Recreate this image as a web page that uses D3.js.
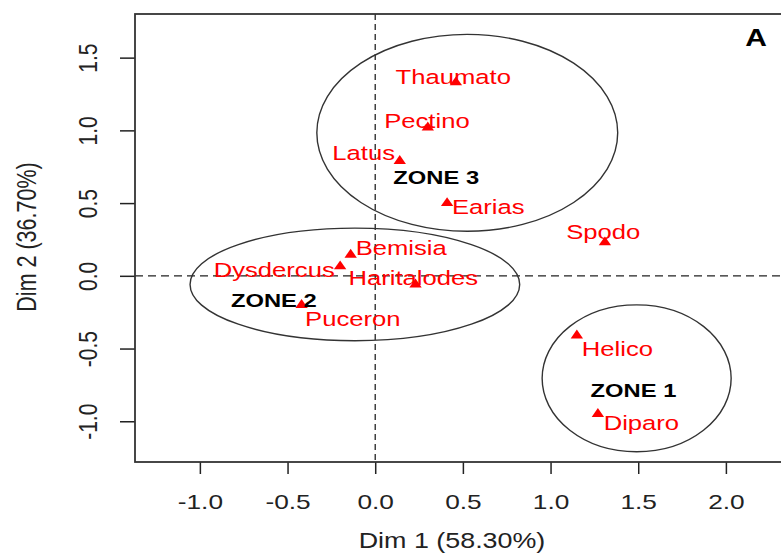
<!DOCTYPE html>
<html>
<head>
<meta charset="utf-8">
<script src="https://cdn.jsdelivr.net/npm/d3@7"></script>
<style>
  body { margin: 0; background: #fff; }
  svg { display: block; }
  text { font-family: "Liberation Sans", Arial, sans-serif; }
</style>
</head>
<body>
<div id="chart"></div>
<script>
// insect species (points)
var species = ["Thaumato", "Pectino", "Latus", "Earias", "Spodo", "Bemisia",
               "Dysdercus", "Haritalodes", "Puceron", "Helico", "Diparo"];
var dim1 = [0.46, 0.30, 0.14, 0.41, 1.31, -0.14, -0.20, 0.23, -0.42, 1.15, 1.27];
var dim2 = [1.33, 1.02, 0.79, 0.50, 0.23, 0.145, 0.065, -0.06, -0.20, -0.41, -0.95];
// where the labels were placed (data units)
var labelDim1 = [0.445, 0.295, -0.066, 0.645, 1.30, 0.148, -0.576, 0.217, -0.128, 1.381, 1.518];
var labelDim2 = [1.37, 1.07, 0.847, 0.475, 0.303, 0.197, 0.045, -0.012, -0.292, -0.502, -1.009];

// zones
var zones = ["ZONE 1", "ZONE 2", "ZONE 3"];
var zoneLabelDim1 = [1.473, -0.578, 0.348];
var zoneLabelDim2 = [-0.787, -0.170, 0.675];
var ellCx = [1.491, -0.116, 0.525];
var ellCy = [-0.705, -0.059, 0.983];
var ellRx = [0.539, 0.94, 0.858];
var ellRy = [0.505, 0.387, 0.677];

var xTicks = [-1.0, -0.5, 0.0, 0.5, 1.0, 1.5, 2.0];
var xTickLabels = ["-1.0", "-0.5", "0.0", "0.5", "1.0", "1.5", "2.0"];
var yTicks = [-1.0, -0.5, 0.0, 0.5, 1.0, 1.5];
var yTickLabels = ["-1.0", "-0.5", "0.0", "0.5", "1.0", "1.5"];

var W = 781, H = 553;
var margin = {top: 14, right: -1, bottom: 91, left: 135};
var SX = 1.25;   // the picture is wider than tall, text gets stretched too

var svg = d3.select("#chart").append("svg")
    .attr("width", W)
    .attr("height", H);

var x = d3.scaleLinear()
    .domain([-1.37, 2.32])
    .range([margin.left, W - margin.right]);
var y = d3.scaleLinear()
    .domain([-1.28, 1.80])
    .range([H - margin.bottom, margin.top]);

function stretched(sel, px, py, rot) {
    sel.attr("transform", "translate(" + px + "," + py + ") scale(" + SX + ",1)" +
        (rot ? " rotate(" + rot + ")" : ""));
    return sel;
}

// dashed zero lines
svg.append("line")
    .attr("x1", x(0)).attr("x2", x(0))
    .attr("y1", y.range()[1]).attr("y2", y.range()[0])
    .attr("stroke", "#222").attr("stroke-width", 1.3)
    .attr("stroke-dasharray", "6,4");
svg.append("line")
    .attr("x1", x.range()[0]).attr("x2", x.range()[1])
    .attr("y1", y(0)).attr("y2", y(0))
    .attr("stroke", "#222").attr("stroke-width", 1.3)
    .attr("stroke-dasharray", "8,5");

// ellipses
svg.selectAll(".zone-ell")
    .data(zones)
    .enter().append("ellipse")
    .attr("class", "zone-ell")
    .attr("cx", function(d, i) { return x(ellCx[i]); })
    .attr("cy", function(d, i) { return y(ellCy[i]); })
    .attr("rx", function(d, i) { return x(ellCx[i] + ellRx[i]) - x(ellCx[i]); })
    .attr("ry", function(d, i) { return y(ellCy[i]) - y(ellCy[i] + ellRy[i]); })
    .attr("fill", "none")
    .attr("stroke", "#333")
    .attr("stroke-width", 1.4);

// points
svg.selectAll(".pt")
    .data(species)
    .enter().append("path")
    .attr("class", "pt")
    .attr("d", d3.symbol().type(d3.symbolTriangle).size(46))
    .attr("transform", function(d, i) {
        return "translate(" + x(dim1[i]) + "," + y(dim2[i]) + ") scale(1.2,1)";
    })
    .attr("fill", "red");

// point labels
svg.selectAll(".lab")
    .data(species)
    .enter().append("text")
    .attr("class", "lab")
    .attr("text-anchor", "middle")
    .attr("dy", "0.36em")
    .attr("font-size", 20.5)
    .attr("fill", "red")
    .text(function(d) { return d; })
    .each(function(d, i) {
        stretched(d3.select(this), x(labelDim1[i]), y(labelDim2[i]));
    });

// zone labels
svg.selectAll(".zlab")
    .data(zones)
    .enter().append("text")
    .attr("class", "zlab")
    .attr("text-anchor", "middle")
    .attr("dy", "0.36em")
    .attr("font-size", 19)
    .attr("font-weight", "bold")
    .attr("fill", "#000")
    .text(function(d) { return d; })
    .each(function(d, i) {
        stretched(d3.select(this), x(zoneLabelDim1[i]), y(zoneLabelDim2[i]));
    });

// X axis
var xAxis = svg.append("g")
    .attr("transform", "translate(0," + y.range()[0] + ")")
    .call(d3.axisBottom(x)
        .tickValues(xTicks)
        .tickFormat(function(d, i) { return xTickLabels[i]; })
        .tickSize(12)
        .tickSizeOuter(0));
xAxis.select(".domain").remove();
xAxis.selectAll(".tick line").attr("stroke", "#222").attr("stroke-width", 1.5);
xAxis.selectAll(".tick text")
    .attr("y", null).attr("dy", null)
    .attr("font-size", 21)
    .attr("font-family", "Liberation Sans, Arial, sans-serif")
    .attr("fill", "#222")
    .attr("transform", "translate(0,47) scale(" + SX + ",1)");

// Y axis
var yAxis = svg.append("g")
    .attr("transform", "translate(" + x.range()[0] + ",0)")
    .call(d3.axisLeft(y)
        .tickValues(yTicks)
        .tickFormat(function(d, i) { return yTickLabels[i]; })
        .tickSize(15)
        .tickSizeOuter(0));
yAxis.select(".domain").remove();
yAxis.selectAll(".tick line").attr("stroke", "#222").attr("stroke-width", 1.5);
yAxis.selectAll(".tick text")
    .attr("x", null).attr("dy", null)
    .attr("text-anchor", "middle")
    .attr("font-size", 21)
    .attr("font-family", "Liberation Sans, Arial, sans-serif")
    .attr("fill", "#222")
    .attr("transform", "translate(-38,0) scale(" + SX + ",1) rotate(-90)");

// frame
svg.append("rect")
    .attr("x", x.range()[0])
    .attr("y", y.range()[1])
    .attr("width", W + 20 - x.range()[0])
    .attr("height", y.range()[0] - y.range()[1])
    .attr("fill", "none")
    .attr("stroke", "#333")
    .attr("stroke-width", 1.8);

// axis titles
stretched(svg.append("text"), 452, 548)
    .attr("text-anchor", "middle")
    .attr("font-size", 21.5)
    .attr("fill", "#222")
    .text("Dim 1 (58.30%)");
stretched(svg.append("text"), 36, 237, -90)
    .attr("text-anchor", "middle")
    .attr("font-size", 21.5)
    .attr("fill", "#222")
    .text("Dim 2 (36.70%)");

// panel letter
stretched(svg.append("text"), 756, 46)
    .attr("text-anchor", "middle")
    .attr("font-size", 24)
    .attr("font-weight", "bold")
    .attr("fill", "#000")
    .text("A");
</script>
</body>
</html>
